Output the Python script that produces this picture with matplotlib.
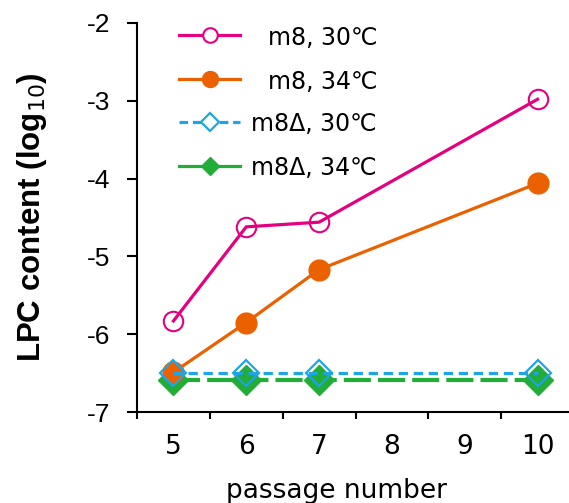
import matplotlib
matplotlib.use("Agg")
import matplotlib.pyplot as plt
from matplotlib.lines import Line2D

passage = [5, 6, 7, 10]
m8_30 = [-5.83, -4.62, -4.56, -2.98]
m8_34 = [-6.49, -5.85, -5.17, -4.06]
m8d_30 = [-6.50, -6.50, -6.50, -6.50]
m8d_34 = [-6.59, -6.59, -6.59, -6.59]
xticklabels = ["5", "6", "7", "8", "9", "10"]
yticks = [-7, -6, -5, -4, -3, -2]
labels = ["m8, 30℃", "m8, 34℃", "m8Δ, 30℃", "m8Δ, 34℃"]

PINK = "#E4007F"
ORANGE = "#EB6100"
BLUE = "#1EA5E6"
GREEN = "#22AC38"

W, H = 569, 503
fig = plt.figure(figsize=(W / 100, H / 100), dpi=100)
L, R, T, B = 137, 574, 23, 412
ax = fig.add_axes([L / W, 1 - B / H, (R - L) / W, (B - T) / H])

fam = ["DejaVu Sans", "Noto Sans CJK JP"]

ax.plot(passage, m8d_34, color=GREEN, lw=3, dashes=(6.5, 1.7), marker="D",
        ms=15, mfc=GREEN, mec=GREEN, zorder=2)
ax.plot(passage, m8_34, color=ORANGE, lw=2.3, marker="o", ms=15,
        mfc=ORANGE, mec=ORANGE, zorder=3)
ax.plot(passage, m8d_30, color=BLUE, lw=2.3, dashes=(2.9, 1.8), marker="D",
        ms=13, mfc="none", mec=BLUE, mew=1.6, zorder=4)
ax.plot(passage, m8_30, color=PINK, lw=2.3, marker="o", ms=14,
        mfc="none", mec=PINK, mew=1.5, zorder=5)

ax.set_xlim(4.5, 10.5)
ax.set_ylim(-7, -2)
for s in ["top", "right"]:
    ax.spines[s].set_visible(False)
for s in ["left", "bottom"]:
    ax.spines[s].set_linewidth(1.5)

ax.set_xticks([4.5, 5.5, 6.5, 7.5, 8.5, 9.5, 10.5])
ax.set_xticklabels([])
ax.set_xticks([5, 6, 7, 8, 9, 10], minor=True)
ax.set_xticklabels(xticklabels, minor=True, fontsize=19, family=fam)
ax.tick_params(axis="x", which="major", direction="out", length=5, width=1.5)
ax.tick_params(axis="x", which="minor", length=0, pad=16)

ax.set_yticks(yticks)
ax.set_yticklabels([str(v) for v in yticks], fontsize=19, family="Liberation Sans")
ax.tick_params(axis="y", direction="out", length=7, width=1.5, pad=12)

ax.set_ylabel("LPC content (log$_{10}$)", fontsize=22.5, fontweight="bold",
              family="Liberation Sans")
ax.yaxis.set_label_coords(-(L - 49) / (R - L), 0.5)

fig.text(336 / W, 1 - 498 / H, "passage number", ha="center", va="baseline",
         fontsize=19, family=fam)

# manual legend
rows = [35, 79, 122, 166]
styles = [
    dict(color=PINK, lw=2.3, marker="o", ms=10.5, mfc="white", mec=PINK, mew=1.5),
    dict(color=ORANGE, lw=2.3, marker="o", ms=11.5, mfc=ORANGE, mec=ORANGE),
    dict(color=BLUE, lw=2.3, dashes=(2.7, 1.5), marker="D", ms=9, mfc="white",
         mec=BLUE, mew=1.6),
    dict(color=GREEN, lw=2.3, marker="D", ms=9, mfc=GREEN, mec=GREEN),
]
for y, st, lab in zip(rows, styles, labels):
    yy = 1 - y / H
    fig.add_artist(Line2D([179 / W, 240 / W], [yy, yy], transform=fig.transFigure,
                          **{k: v for k, v in st.items() if k not in ("marker", "ms", "mfc", "mec", "mew")}))
    fig.add_artist(Line2D([210 / W], [yy], transform=fig.transFigure, ls="none",
                          marker=st["marker"], ms=st["ms"], mfc=st["mfc"],
                          mec=st["mec"], mew=st.get("mew", 1)))
    fig.text(377 / W, yy, lab, ha="right", va="center_baseline", fontsize=17,
             family=fam)

fig.savefig("out.png", dpi=100)
